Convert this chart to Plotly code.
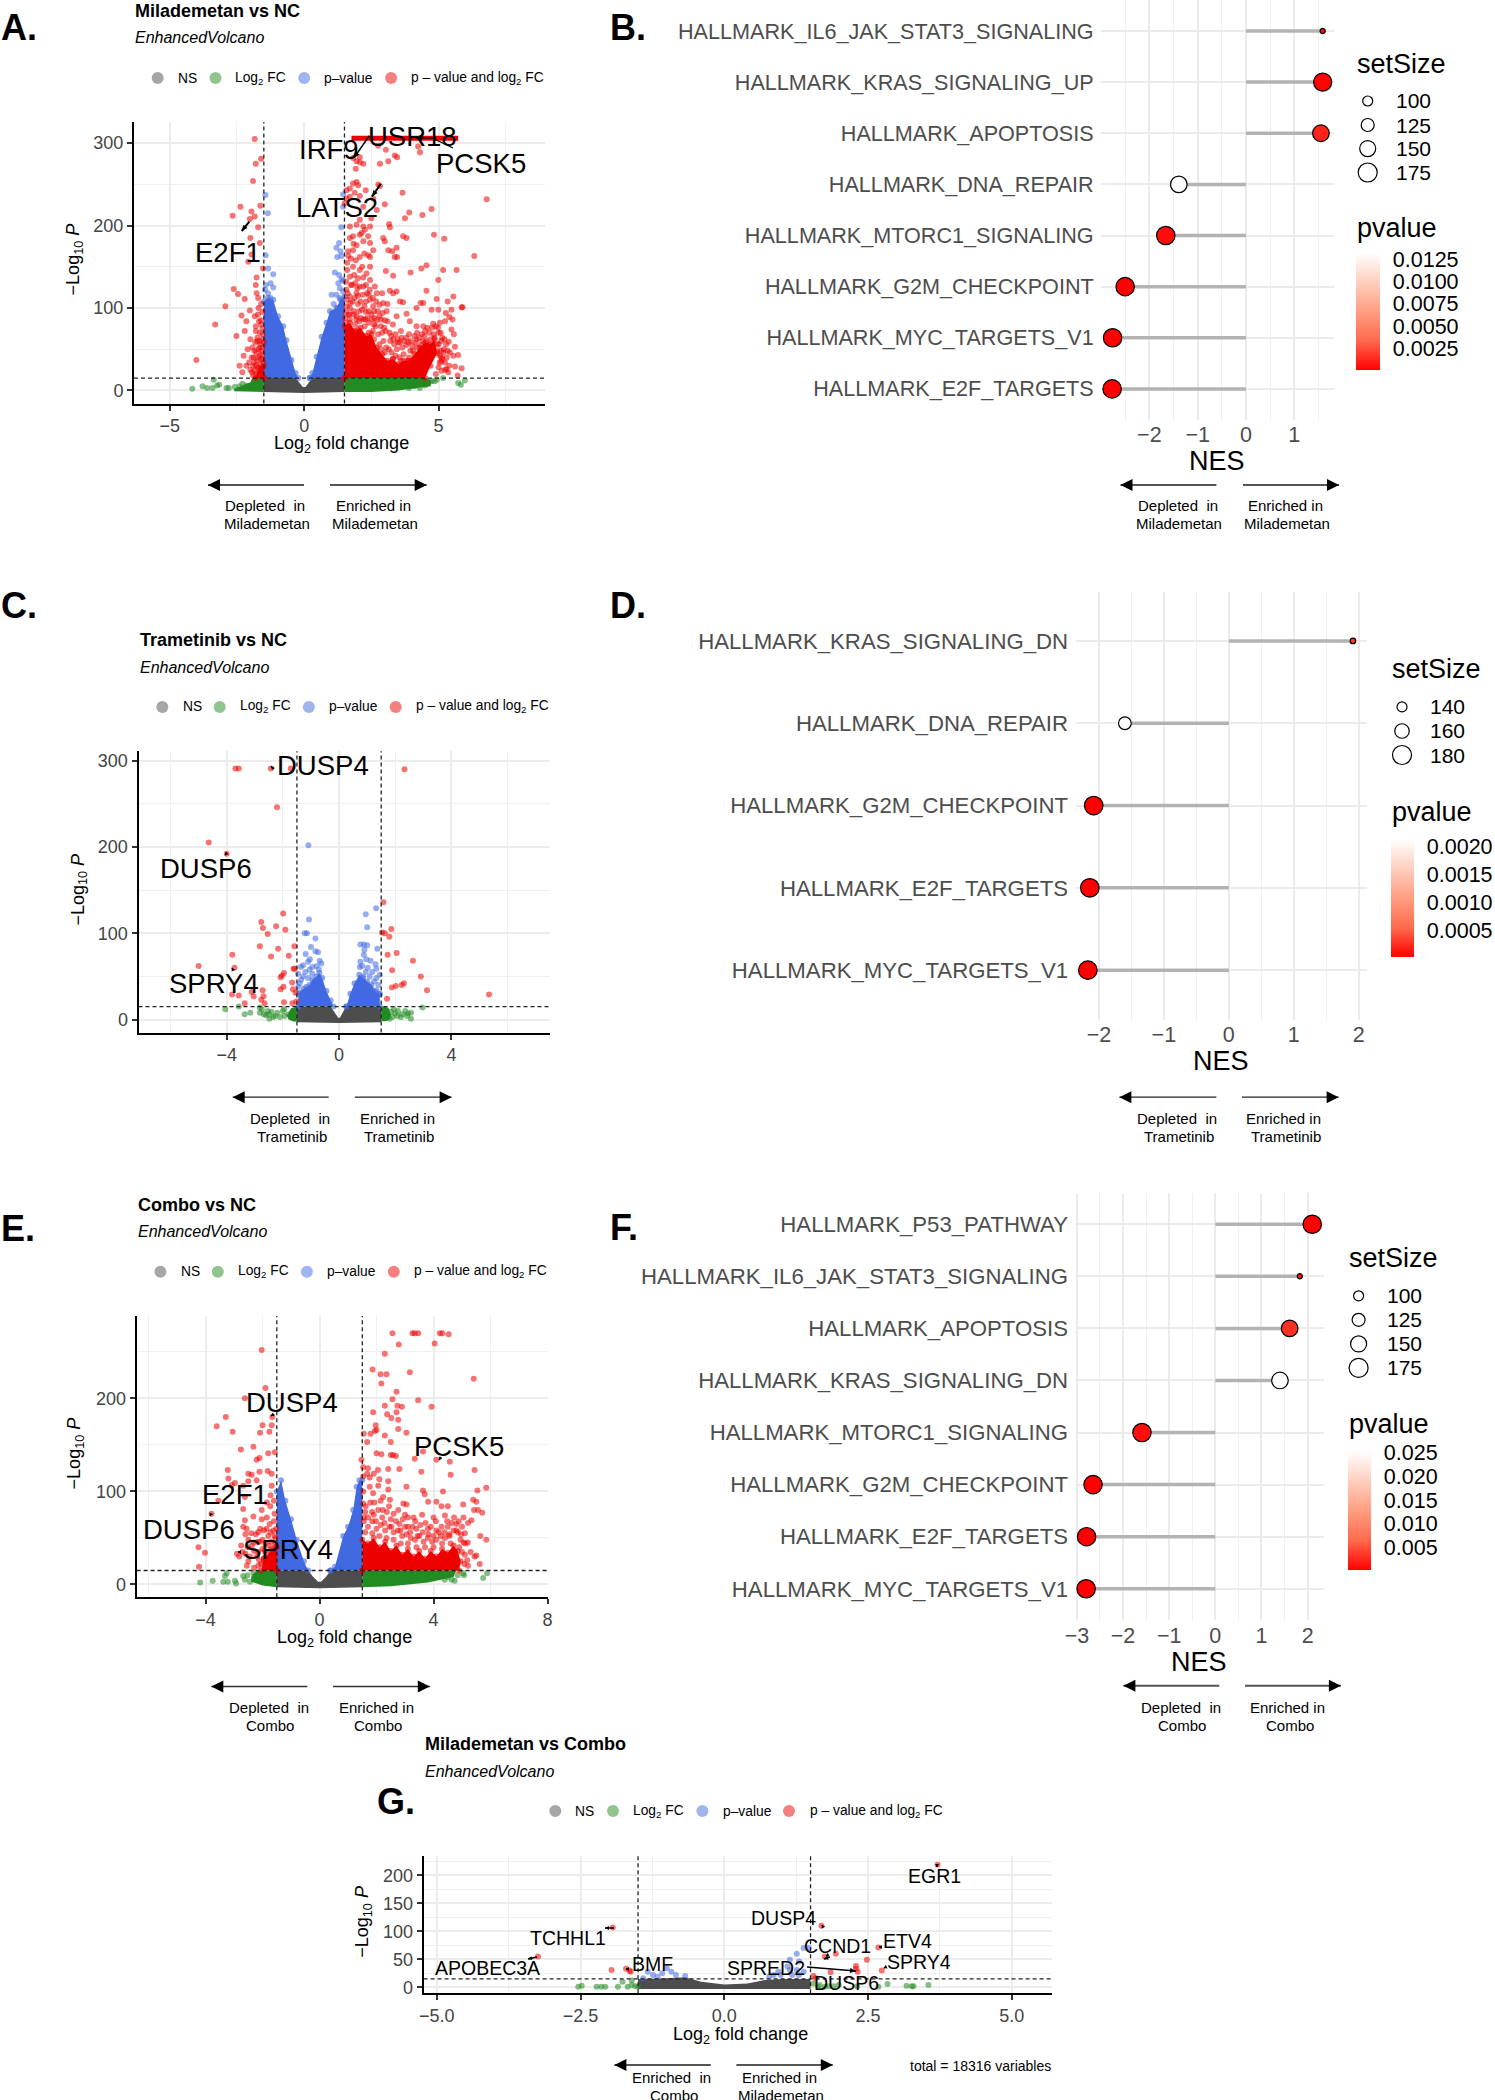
import math
import plotly.graph_objects as go

W, H = 1495, 2100

# ---------- DATA ----------
A_grey = [(-1.5,-2),(-1.5,17),(-0.36,17),(-0.2,10),(-0.05,4),(0.05,4),(0.2,10),(0.34,17),(1.5,17),(1.5,-2),(0,-3)]
A_green = [(1.5,-2),(1.5,17),(4.4,17),(4.75,12),(4.7,5),(3.5,0),(2.5,-2)]
A_green2 = [(-1.5,-2),(-1.5,17),(-1.9,17),(-2.0,10),(-2.3,6),(-2.6,2),(-2.6,-1)]
A_green_pts = [(-4.16,2),(-3.78,5),(-3.61,3),(-3.36,13),(-3.41,3),(-3.24,6),(-3.16,7),(-2.89,3),(-2.8,3),(-2.58,4),(-2.4,5),(-2.3,8),(-2.15,6),
               (4.74,11),(4.93,13),(5.17,15),(5.73,9),(5.83,7),(5.98,12),(4.5,6),(4.6,9),(4.3,3),(4.1,5),(3.9,3),(4.85,11)]
A_blue = [(-1.5,15),(-1.5,108),(-1.35,112),(-1.15,110),(-0.97,90),(-0.78,78),(-0.66,61),(-0.47,37),(-0.32,21),(-0.22,15)]
A_blue2 = [(0.21,15),(0.31,21),(0.46,41),(0.65,65),(0.83,82),(0.96,96),(1.2,100),(1.35,110),(1.5,114),(1.5,15)]
A_blue_pts = [(-1.44,237),(-1.35,215),(-1.43,164),(-1.34,148),(-1.15,141),(-1.25,130),(-1.43,128),(-1.15,125),(-1.34,118),(-1.46,122),(-1.25,112),
              (1.45,238),(1.45,223),(1.38,198),(1.30,179),(1.2,173),(1.35,169),(1.23,162),(1.39,163),(1.14,143),(1.30,140),(1.39,135),(1.27,130),
              (1.33,124),(1.02,116),(1.2,116),(1.45,133),(1.45,120),(1.32,112),(1.1,105),(1.4,105),(1.25,100)]
A_red_mass = [(1.5,15),(1.5,78),(1.7,82),(1.9,72),(2.1,76),(2.3,66),(2.5,68),(2.7,52),(2.9,44),(3.1,36),(3.3,38),(3.5,32),(3.7,36),(3.9,36),(4.1,44),(4.3,52),(4.5,58),(4.7,56),(4.85,62),(4.95,45),(4.7,30),(4.5,15)]
A_red_mass2 = [(-1.5,15),(-1.5,30),(-1.7,28),(-1.8,15)]
A_sat_x = [1.76,5.73]
A_sat_y = [306,306]
A_red_pts = [(-1.84,305),(-1.80,275),(-1.60,281),(-1.90,254),(-2.37,223),(-2.66,212),(-1.96,217),(-1.63,224),(-2.02,208),(-1.84,211),(-1.71,198),
 (-2.0,185),(-1.65,179),(-2.08,156),(-1.96,165),(-1.53,148),(-1.77,137),(-1.80,128),(-2.62,123),(-2.46,117),(-2.21,111),(-2.93,102),(-3.31,80),(-2.52,66),(-4.01,37),
 (-1.77,118),(-1.71,112),(-2.02,97),(-2.33,91),(-2.15,84),(-2.21,72),(-1.84,90),(-1.7,100),(-1.6,85),(-1.8,78),(-1.65,70),(-2.0,62),(-1.75,60),(-2.1,50),(-2.25,42),(-1.95,40),(-2.15,30),(-2.0,25),(-2.4,30),(-2.3,22),(-1.6,105),(-1.55,95),(-1.55,75),
 (-1.55,62),(-1.62,56),(-1.7,50),(-1.58,48),(-1.78,46),(-1.65,42),(-1.55,38),(-1.75,36),(-1.85,34),(-1.62,32),(-1.55,28),(-1.72,27),(-1.85,24),(-1.6,22),(-1.7,18),(-1.55,18),(-1.9,18),(-1.8,72),(-1.92,52),(-1.68,84),(-1.55,52),(-1.65,60),(-1.85,48),(-1.6,38),(-1.9,30),(-1.78,20),
 (-1.52,34),(-1.58,26),(-1.64,20),(-1.72,40),(-1.8,30),(-1.56,44),(-1.66,52),(-1.74,64),(-1.82,58),(-1.88,40),(-1.94,22),(-2.05,34),(-1.54,68),(-1.6,80),(-1.72,92),(-1.5,58),
 (2.75,297),(3.04,292),(3.37,285),(2.82,275),(3.13,278),(3.46,283),(4.24,296),(4.31,289),(2.07,277),(1.95,278),(1.92,269),(1.82,282),(2.07,283),(2.2,275),
 (1.95,253),(1.82,251),(2.01,249),(1.7,245),(1.57,243),(1.88,240),(2.07,236),(2.29,243),(2.76,250),(2.82,248),(3.66,240),(1.57,233),(1.7,235),(2.57,233),(3.0,226),(3.91,216),(3.75,209),(4.4,213),(4.74,220),(6.79,232),
 (1.51,227),(2.2,223),(2.7,219),(2.5,209),(2.07,207),(1.7,199),(1.95,201),(2.2,199),(2.45,199),(3.16,202),(3.19,198),(3.68,187),(3.81,185),(2.94,185),(3.0,181),(4.83,189),(5.21,184),(6.33,163),
 (3.44,173),(3.13,170),(3.28,169),(3.37,162),(3.46,162),(4.55,152),(4.36,148),(3.96,143),(3.04,145),(3.31,139),(5.17,146),(5.67,146),(4.99,134),(4.55,121),(5.55,114),(5.34,108),(4.93,111),(4.33,106),(4.43,106),(5.86,101),(5.89,101),
 (3.19,121),(3.44,120),(3.31,118),(3.56,108),(3.68,107),(4.18,100),(4.74,98),(4.99,98),(5.48,98),(5.27,94),(5.4,89),(5.52,86),(4.8,81),(5.05,82),(5.24,84),(5.48,74),(5.57,68),(5.38,59),(5.61,53),(5.55,42),(5.73,43),(5.61,29),(5.86,27),(5.71,18),
 (3.93,84),(4.18,78),(4.43,78),(3.44,90),(3.81,93),(3.07,96),(2.94,106),(2.2,86),(2.45,110),(2.7,118),(2.57,102),(2.2,137),(2.45,150),(2.07,146),(1.82,150),(1.7,138),(2.2,126),(1.95,118),(1.7,114),(1.57,122),(2.45,134),(2.63,126),
 (1.82,170),(2.07,162),(2.38,164),(2.45,162),(2.57,170),(1.7,185),(2.2,181),(2.38,187),(2.45,179),(1.82,187),(2.07,189),(1.64,169),(1.64,163),(1.95,176),(2.14,191),(2.26,195),
 (1.6,155),(1.9,130),(2.3,128),(2.9,118),(3.1,105),(2.8,90),(3.0,85),(3.3,80),(3.6,72),(3.9,68),(4.2,70),(4.5,72),(2.6,80),(2.9,70),(3.2,60),(3.5,58),(3.8,55),(3.15,50),(5.0,70),(5.1,60),(5.2,50),(5.3,40),(5.4,30),(5.1,35),(5.25,25),(5.0,28),(4.9,20),
 (1.55,95),(1.7,100),(1.85,92),(2.0,105),(2.15,98),(2.3,95),(2.5,92),(2.7,85),(2.85,78),(1.6,110),(1.8,108),(2.0,115),(2.3,108),(2.6,96),(1.55,82),(1.7,86),(1.9,80),(2.05,84),(2.25,78),(2.4,82),(2.55,72),(2.75,68),(2.95,60),(1.6,76),(1.8,72),(2.0,74),(2.2,66),(2.4,70),(2.6,62),(2.8,56),(3.05,52),(3.25,46),(3.4,42),(3.55,40),(3.7,44),(3.9,40),(4.05,48),(4.2,52),(4.35,55),(4.55,60),(4.7,62),(4.85,64),(5.0,56),(5.1,48),(5.05,42),(3.0,46),(3.3,38),(3.6,36),(3.85,36),(2.85,50),(4.4,60),(4.65,55),(4.95,48),(5.15,38),(3.45,50),(3.65,52),(3.95,48),(4.15,58),(1.65,92),(1.95,90),(2.35,88),(2.65,78),(3.35,56),
 (1.52,88),(1.58,102),(1.62,118),(1.68,92),(1.72,106),(1.78,128),(1.84,96),(1.88,112),(1.94,86),(1.98,124),(2.04,96),(2.1,108),(2.12,88),(2.18,116),(2.24,102),(2.28,86),(2.34,118),(2.4,96),(2.44,122),(2.52,86),(2.56,112),(2.62,88),(2.68,108),(2.74,96),(2.8,104),(2.86,86),(2.92,94),(2.98,76),(3.04,72),(3.1,84),(3.18,70),(3.24,66),(3.32,62),(3.4,68),(3.48,62),(3.56,58),(3.62,64),(3.72,60),(3.8,64),(3.88,58),(3.96,60),(4.02,54),(4.1,66),(4.18,62),(4.28,64),(4.38,68),(4.48,66),(4.58,76),(4.66,70),(4.76,76),(4.82,68),(4.9,78),(4.98,76),(5.08,70),(5.14,64),(5.22,62),(5.28,56),(5.34,48),(5.18,46),(5.1,40),(5.24,34),(5.3,26),(5.12,24),(5.04,34),(5.42,46),(5.36,22),(4.96,56),(1.56,132),(1.74,128),(1.6,146),(1.86,140),(2.0,136),(2.16,150),(2.32,142),(2.4,116),(2.06,126),(1.92,158),(1.74,160),(2.24,166),(1.84,178)]

C_grey = [(-1.5,-3),(-1.5,15),(-0.3,15),(-0.15,8),(-0.03,2),(0.03,2),(0.13,8),(0.25,15),(1.5,15),(1.5,-3),(0,-4)]
C_green = [(1.5,-2),(1.5,15),(1.75,14),(1.85,6),(1.8,0),(1.65,-2)]
C_green2 = [(-1.5,-2),(-1.5,15),(-1.7,13),(-1.85,5),(-1.8,0),(-1.65,-2)]
C_green_pts = [(-4.05,12),(-3.57,15),(-3.36,6),(-3.16,8),(-2.82,14),(-2.82,8),(-2.68,6),(-2.54,10),(-2.41,9),(-2.48,1),(-2.27,4),(-2.0,10),(-1.93,4),(-1.8,6),(-1.65,10),(-1.58,1),(-2.75,12),(-2.6,5),(-2.5,6),(-2.35,3),(-2.2,8),(-2.1,3),(-1.95,12),
               (1.6,12),(1.95,12),(2.36,10),(2.56,8),(2.97,14),(2.56,1),(2.42,4),(2.07,4),(1.8,1),(2.2,3),(1.7,6),(1.85,9),(2.0,7),(2.1,10),(2.25,6),(1.9,3),(2.45,7)]
C_blue = [(-1.45,15),(-1.45,30),(-1.25,36),(-1.05,40),(-0.95,46),(-0.8,50),(-0.7,54),(-0.6,48),(-0.45,33),(-0.3,22),(-0.2,15)]
C_blue2 = [(0.26,15),(0.4,30),(0.55,42),(0.72,52),(0.85,48),(1.0,44),(1.15,40),(1.3,32),(1.45,30),(1.45,15)]
C_blue_pts = [(-1.09,202),(0.95,122),(1.32,129),(-1.07,116),(1.0,107),(-1.22,100),(-1.14,100),(-0.84,94),(0.76,87),(0.88,87),(1.0,86),(0.9,81),(1.36,82),(-1.0,84),(-0.84,79),(-0.75,78),
              (-1.19,76),(0.88,75),(-1.04,70),(-1.1,67),(-0.69,68),(-0.63,65),(0.97,70),(0.76,67),(1.12,68),(1.3,64),(-1.28,63),(-1.36,61),(0.74,61),(1.33,59),(-0.95,61),(-1.46,53),(-1.28,50),(-1.1,48),(-0.95,53),
              (0.85,50),(1.09,50),(1.33,48),(1.45,52),(-1.4,42),(-1.16,38),(-1.4,31),(-1.28,32),(-1.0,31),(1.09,38),(1.33,34),(1.45,29),(0.85,34),(1.27,25),(-0.8,62),(-0.72,58),(0.82,62),(1.02,60),(1.18,55),(-1.35,46),(-1.2,55),(-1.05,58),(1.25,44),(0.95,55),(1.4,40),(-1.45,38),(-0.9,42),(1.2,34)]
C_red_pts = [(-3.69,291),(-3.57,291),(-2.43,291),(-1.72,291),(2.33,290),(-2.21,246),(-4.64,205),(-4.0,192),(1.58,136),(-1.99,123),(-2.77,113),(-2.71,106),(-2.24,108),(-1.91,104),(-2.54,99),(1.53,101),(1.63,100),(1.86,105),(1.79,96),
 (-2.82,85),(-2.17,82),(-1.59,85),(-2.42,73),(-1.79,74),(-3.8,75),(2.05,77),(1.73,75),(2.63,68),(-5.0,62),(-3.72,60),(-1.58,59),(-1.62,59),(1.89,57),(-1.96,54),(-2.03,51),(-2.08,49),(2.91,50),(-1.67,43),(-1.98,38),(-2.08,35),(-1.64,35),(-2.72,34),(3.13,34),
 (2.02,39),(1.88,37),(2.23,40),(2.31,42),(-3.81,29),(-3.57,28),(-3.11,32),(-3.04,27),(-2.69,27),(-2.77,23),(-2.65,19),(-3.36,19),(-1.96,20),(-1.66,19),(-1.52,21),(-1.55,31),(1.71,24),(5.34,29)]

E_grey = [(-1.5,-3),(-1.5,15),(-0.4,15),(-0.22,8),(-0.05,3),(0.05,3),(0.22,8),(0.4,15),(1.5,15),(1.5,-3),(0,-4)]
E_green = [(1.5,-3),(1.5,15),(4.8,15),(4.7,8),(3.8,2),(2.5,-2)]
E_green2 = [(-1.5,-3),(-1.5,15),(-2.2,15),(-2.4,8),(-2.4,3),(-2.0,-1)]
E_green_pts = [(-4.19,2),(-3.75,4),(-3.38,3),(-3.26,12),(-3.32,9),(-3.22,3),(-2.97,4),(-2.93,1),(-2.68,9),(-2.62,5),(-2.53,10),(-2.32,12),(-2.26,9),(-2.44,3),
               (4.63,5),(4.74,4),(4.39,5),(5.04,12),(5.07,10),(5.74,7),(5.88,12),(4.85,10),(4.5,8)]
E_blue = [(-1.5,15),(-1.5,100),(-1.35,112),(-1.2,90),(-1.0,70),(-0.8,48),(-0.55,25),(-0.4,15)]
E_blue2 = [(0.38,15),(0.54,19),(0.83,52),(1.0,62),(1.18,80),(1.3,105),(1.4,112),(1.5,112),(1.5,15)]
E_red_mass = [(1.5,15),(1.5,48),(1.7,44),(1.9,50),(2.1,40),(2.3,46),(2.5,36),(2.7,42),(2.9,32),(3.1,38),(3.3,30),(3.5,36),(3.7,28),(3.9,36),(4.1,30),(4.3,38),(4.5,34),(4.7,42),(4.85,36),(4.95,25),(4.9,15)]
E_red_mass2 = [(-1.5,15),(-1.5,40),(-1.7,36),(-1.95,28),(-2.05,15)]
E_red_pts = [(2.56,270),(3.26,270),(3.34,270),(3.46,270),(4.22,270),(4.31,270),(4.53,269),(2.78,258),(4.04,259),(-2.03,252),(2.29,248),(1.86,231),(2.14,226),(2.35,226),(2.17,216),(3.17,228),(5.41,221),(-1.9,211),(2.7,207),(-2.62,200),(2.56,199),(3.46,198),
 (2.29,192),(2.73,192),(2.89,191),(3.93,191),(1.88,185),(2.7,185),(2.37,183),(2.52,179),(2.76,177),(-3.29,180),(-1.66,180),(-3.61,170),(-3.05,164),(-2.0,171),(-1.68,171),(-2.09,163),(-1.76,164),(1.97,171),(2.0,166),(1.94,165),(1.55,162),(1.79,162),(2.29,160),(2.76,167),(3.05,163),(1.67,153),(2.5,153),(3.63,143),
 (-2.76,145),(-2.32,148),(-1.8,141),(-1.57,142),(2.0,141),(2.17,140),(2.5,139),(2.58,139),(2.68,138),(3.34,135),(4.1,134),(4.57,132),(-2.11,136),(-2.21,134),(-3.22,123),(-2.5,119),(-2.38,118),(-2.11,121),(-1.82,122),(-1.68,119),(1.47,134),(1.53,126),(1.7,125),(2.05,123),(2.41,124),(1.9,119),(1.67,119),(2.8,124),(3.57,121),(4.6,118),(5.44,123),
 (-3.2,114),(-2.97,109),(-2.5,111),(-2.21,112),(-1.68,106),(5.85,104),(5.54,101),(4.33,100),(3.63,101),(3.69,97),(3.05,105),(1.53,116),(1.76,115),(2.1,113),(2.41,111),(2.06,106),(1.76,105),(2.41,102),(1.88,98),(2.23,94),(1.53,100),(1.53,87),(2.47,91),(2.94,87),(3.05,86),(3.81,89),(4.1,89),(4.28,84),(4.5,84),(5.04,86),(5.39,91),(5.5,89),(5.42,80),(5.56,80),(5.71,77),
 (-3.08,107),(-2.68,106),(-2.62,94),(-3.55,90),(-3.79,76),(-2.68,81),(-2.03,80),(-1.73,84),(-2.03,70),(-2.32,73),(-2.62,69),(-2.68,62),(-2.56,60),(-4.25,40),(-4.02,34),(-4.23,19),(5.85,48),(5.5,31),(5.44,30),(5.62,22),(5.21,20),(5.64,52),(5.33,69),(5.21,66),
 (1.6,78),(1.9,75),(2.2,72),(2.5,70),(2.8,65),(3.1,62),(3.4,60),(3.8,60),(4.1,58),(4.5,62),(4.8,65),(5.0,62),(5.1,55),(5.2,45),(5.3,35),(3.0,75),(3.3,72),(3.6,75),(4.0,72),(4.4,74),(-2.4,55),(-2.3,45),(-2.5,48),(-2.7,35),(-2.6,33),(-2.5,25),(-2.3,18),(-2.2,30),
 (1.55,68),(1.7,62),(1.85,68),(2.0,60),(2.15,64),(2.3,58),(2.45,62),(2.6,56),(2.75,58),(2.9,52),(3.05,54),(3.2,50),(3.35,48),(3.5,52),(3.65,46),(3.8,50),(3.95,46),(4.1,48),(4.25,52),(4.4,50),(4.55,54),(4.7,58),(4.85,56),(4.95,48),(1.6,56),(1.85,55),(2.1,52),(2.35,50),(2.6,48),(2.85,44),(3.1,44),(3.4,40),(3.7,40),(4.0,40),(4.3,44),(4.6,44),(4.9,40),(5.05,45),(5.1,32),(5.0,35),
 (-1.55,50),(-1.62,58),(-1.7,46),(-1.58,40),(-1.8,52),(-1.9,44),(-1.7,38),(-1.55,32),(-1.85,34),(-2.0,38),(-2.1,46),(-1.95,28),(-1.7,28),(-1.55,24),(-1.8,22),(-2.05,22),(-1.65,18),(-1.9,18),(-2.15,35),(-1.75,65),(-1.6,68),(-1.95,58),(-2.15,56),(-1.58,76),(-1.85,72),
 (1.56,72),(1.62,84),(1.7,72),(1.78,88),(1.84,78),(1.92,88),(1.98,68),(2.06,80),(2.14,90),(2.22,80),(2.28,66),(2.36,78),(2.44,84),(2.52,62),(2.6,76),(2.68,68),(2.76,80),(2.84,58),(2.92,70),(3.0,62),(3.1,72),(3.18,56),(3.26,62),(3.36,68),(3.44,52),(3.54,64),(3.62,56),(3.72,66),(3.82,54),(3.9,62),(4.0,52),(4.08,68),(4.18,56),(4.28,62),(4.38,56),(4.48,68),(4.56,52),(4.64,66),(4.72,72),(4.8,58),(4.88,68),(4.96,54),(5.05,72),(5.12,44),(5.18,26),(5.08,22),
 (-1.52,40),(-1.58,52),(-1.64,34),(-1.72,56),(-1.78,42),(-1.86,60),(-1.92,36),(-2.0,48),(-2.08,60),(-2.16,46),(-2.24,54),(-2.3,36),(-2.38,42),(-2.44,30),(-2.52,40),(-2.6,54),(-2.75,42),(-2.82,30),(-2.9,33),(-2.55,20),(-2.15,20),(-1.52,60),(-1.6,90),(-1.72,96),(-1.85,88),(-1.55,44),(-1.68,24),(-1.82,28),(-1.95,25),(-2.12,26)]

G_grey = [(-1.5,-3),(-1.5,15),(-1.0,16),(-0.68,18),(-0.4,10),(0.0,5),(0.4,7),(0.7,13),(1.0,15),(1.5,15),(1.5,-3)]
G_green_pts = [(-2.54,1),(-2.48,3),(-2.22,1),(-2.14,1),(-2.07,1),(-1.85,1),(-1.68,1),(-1.61,4),(-1.77,10),(-1.61,12),(-1.55,2),(-1.5,1),
               (2.84,6),(3.17,3),(3.26,2),(3.29,2),(3.55,4),(2.68,1),(2.31,2),(1.99,4),(1.9,2),(1.82,2),(1.66,4),(1.55,7),(1.75,1),(1.63,1)]
G_blue_pts = [(1.38,70),(1.47,70),(1.26,60),(1.14,49),(1.3,46),(1.1,37),(0.94,28),(1.14,31),(1.26,31),(1.38,28),(0.78,19),(0.86,22),(0.98,22),(1.18,22),(1.3,22),
              (-1.33,28),(-1.0,34),(-0.92,28),(-1.08,25),(-1.24,22),(-0.84,22),(-1.16,19),(-0.68,20),(-1.41,16)]
G_red_pts = [(3.71,219),(1.69,110),(-1.94,107),(-3.24,55),(2.68,71),(1.94,60),(1.75,55),(2.48,49),(2.29,38),(2.29,33),(2.32,28),(2.74,30),(1.85,27),(-1.96,31),(-1.71,33),(-1.65,30),(-1.63,28),(1.55,20),(1.59,16)]

B_terms = ["HALLMARK_IL6_JAK_STAT3_SIGNALING","HALLMARK_KRAS_SIGNALING_UP","HALLMARK_APOPTOSIS","HALLMARK_DNA_REPAIR","HALLMARK_MTORC1_SIGNALING","HALLMARK_G2M_CHECKPOINT","HALLMARK_MYC_TARGETS_V1","HALLMARK_E2F_TARGETS"]
B_nes = [1.586,1.586,1.55,-1.39,-1.66,-2.5,-2.76,-2.77]
B_size = [60,168,155,155,170,170,170,170]
B_p = [0.0003,0.0002,0.0012,0.0132,0.0005,0.0001,0.0001,0.0001]
B_size_legend = [100,125,150,175]
B_p_ticks = [0.0025,0.005,0.0075,0.01,0.0125]
B_p_labels = ["0.0025","0.0050","0.0075","0.0100","0.0125"]

D_terms = ["HALLMARK_KRAS_SIGNALING_DN","HALLMARK_DNA_REPAIR","HALLMARK_G2M_CHECKPOINT","HALLMARK_E2F_TARGETS","HALLMARK_MYC_TARGETS_V1"]
D_nes = [1.91,-1.6,-2.08,-2.14,-2.17]
D_size = [120,152,178,178,178]
D_p = [0.0003,0.00214,0.00003,0.00003,0.00003]
D_size_legend = [140,160,180]
D_p_ticks = [0.0005,0.001,0.0015,0.002]
D_p_labels = ["0.0005","0.0010","0.0015","0.0020"]

F_terms = ["HALLMARK_P53_PATHWAY","HALLMARK_IL6_JAK_STAT3_SIGNALING","HALLMARK_APOPTOSIS","HALLMARK_KRAS_SIGNALING_DN","HALLMARK_MTORC1_SIGNALING","HALLMARK_G2M_CHECKPOINT","HALLMARK_E2F_TARGETS","HALLMARK_MYC_TARGETS_V1"]
F_nes = [2.1,1.83,1.61,1.40,-1.59,-2.65,-2.79,-2.80]
F_size = [170,60,155,155,170,170,170,170]
F_p = [0.0002,0.001,0.003,0.0253,0.001,0.0002,0.0002,0.0002]
F_size_legend = [100,125,150,175]
F_p_ticks = [0.005,0.01,0.015,0.02,0.025]
F_p_labels = ["0.005","0.010","0.015","0.020","0.025"]

FONT = "Liberation Sans"
GREY = "#4d4d4d"
C_NS, C_FC, C_P, C_BOTH = "77,77,77", "34,139,34", "65,105,225", "238,0,0"

fig = go.Figure()
annots, shapes = [], []
layout = {}

def px(x): return x / W
def py(y): return 1 - y / H

def T(x, y, s, size=15, anchor="left", color="black", angle=0):
    annots.append(dict(xref="paper", yref="paper", x=px(x), y=py(y), text=s, showarrow=False,
                       xanchor=anchor, yanchor="middle", textangle=angle, borderpad=0,
                       font=dict(size=size, color=color, family=FONT)))

def ARW(x0, y0, x1, y1, width=1.5, head=True, hl=6, hw=2.6):
    shapes.append(dict(type="line", xref="paper", yref="paper", x0=px(x0), x1=px(x1), y0=py(y0), y1=py(y1),
                       line=dict(color="black", width=width)))
    if head:
        d = math.hypot(x1-x0, y1-y0) or 1
        ux, uy = (x1-x0)/d, (y1-y0)/d
        bx, by = x1-ux*hl, y1-uy*hl
        shapes.append(dict(type="path", xref="paper", yref="paper",
                           path=f"M {px(x1)},{py(y1)} L {px(bx-uy*hw)},{py(by+ux*hw)} L {px(bx+uy*hw)},{py(by-ux*hw)} Z",
                           fillcolor="black", line=dict(width=0)))

def big_arrow(tail, tip, y, color="#555555", lw=2):
    shapes.append(dict(type="line", xref="paper", yref="paper", x0=px(tail), x1=px(tip), y0=py(y), y1=py(y),
                       line=dict(color=color, width=lw)))
    d = 12 if tip > tail else -12
    shapes.append(dict(type="path", xref="paper", yref="paper",
                       path=f"M {px(tip)},{py(y)} L {px(tip-d)},{py(y-6)} L {px(tip-d)},{py(y+6)} Z",
                       fillcolor="black", line=dict(width=0)))

def circle(x, y, d, fill, line=None):
    shapes.append(dict(type="circle", xref="paper", yref="paper", x0=px(x-d/2), x1=px(x+d/2), y0=py(y+d/2), y1=py(y-d/2),
                       fillcolor=fill, line=dict(width=1.2 if line else 0, color=line or "rgba(0,0,0,0)")))

def axes(n, box, xr, yr, xt, xminor, yt, yminor, xlabels=None):
    l, r, t, b = box
    sfx = "" if n == 1 else str(n)
    layout["xaxis"+sfx] = dict(domain=[px(l), px(r)], range=xr, anchor="y"+sfx, tickvals=xt, ticktext=xlabels,
        showgrid=True, gridcolor="#ececec", gridwidth=2, zeroline=False, showline=True, linecolor="black", linewidth=2,
        ticks="outside", ticklen=5, tickwidth=1.5, tickcolor="#333333", tickfont=dict(size=18, color="#444444", family=FONT),
        minor=dict(tickvals=xminor, showgrid=True, gridcolor="#f0f0f0", gridwidth=1, ticks=""))
    layout["yaxis"+sfx] = dict(domain=[py(b), py(t)], range=yr, anchor="x"+sfx, tickvals=yt,
        showgrid=True, gridcolor="#ececec", gridwidth=2, zeroline=False, showline=True, linecolor="black", linewidth=2,
        ticks="outside", ticklen=5, tickwidth=1.5, tickcolor="#333333", tickfont=dict(size=18, color="#444444", family=FONT),
        minor=dict(tickvals=yminor, showgrid=True, gridcolor="#f0f0f0", gridwidth=1, ticks=""))

def pts(n, data, color, name):
    sfx = "" if n == 1 else str(n)
    fig.add_trace(go.Scatter(x=[p[0] for p in data], y=[p[1] for p in data], mode="markers", name=name, xaxis="x"+sfx, yaxis="y"+sfx,
                             marker=dict(size=6, color=f"rgba({color},0.55)", line=dict(width=0)), showlegend=False))

def poly(n, data, color, name, edge=True):
    sfx = "" if n == 1 else str(n)
    fig.add_trace(go.Scatter(x=[p[0] for p in data]+[data[0][0]], y=[p[1] for p in data]+[data[0][1]], mode="lines+markers" if edge else "lines",
                             fill="toself", fillcolor=f"rgb({color})", name=name, xaxis="x"+sfx, yaxis="y"+sfx,
                             line=dict(width=0, color=f"rgb({color})"), showlegend=False,
                             marker=dict(size=6, color=f"rgba({color},0.6)", line=dict(width=0))))

def cutoffs(n, hi=1.5, lo=-1.5, p=15):
    sfx = "" if n == 1 else str(n)
    for v in (lo, hi):
        shapes.append(dict(type="line", xref="x"+sfx, yref=f"y{sfx} domain", x0=v, x1=v, y0=0, y1=1, layer="above",
                           line=dict(color="#222222", width=1.3, dash="4px,3px")))
    shapes.append(dict(type="line", xref=f"x{sfx} domain", yref="y"+sfx, x0=0, x1=1, y0=p, y1=p, layer="above",
                       line=dict(color="#222222", width=1.3, dash="4px,3px")))

def header(title, tx, ty, sy, ly, circ, texts):
    T(tx, ty, f"<b>{title}</b>", 18)
    T(tx, sy, "<i>EnhancedVolcano</i>", 16)
    cols = [C_NS, C_FC, C_P, C_BOTH]
    labs = ["NS", "Log<sub>2</sub> FC", "p\u2013value", "p \u2013 value and log<sub>2</sub> FC"]
    for c, tt, col, lab in zip(circ, texts, cols, labs):
        circle(c, ly, 12, f"rgba({col},0.5)")
        T(tt, ly, lab, 13.8)

def directions(tail_l, tip_l, tail_r, tip_r, y, rows, lw=2, col="#555555"):
    big_arrow(tail_l, tip_l, y, col, lw)
    big_arrow(tail_r, tip_r, y, col, lw)
    for x, yy, s in rows:
        T(x, yy, s, 15, "center")

def lollipop(n, box, xr, terms, nes, sizes, ps, size_fn, xt, xminor, legend, cbar, cticks, clabels, crange, term_font):
    l, r, t, b = box
    sfx = str(n)
    k = len(terms)
    lx, ly = [], []
    for tm, v in zip(terms, nes):
        lx += [0, v, None]; ly += [tm, tm, None]
    fig.add_trace(go.Scatter(x=lx, y=ly, mode="lines", line=dict(color="#b3b3b3", width=3.5), xaxis="x"+sfx, yaxis="y"+sfx, showlegend=False, name="NES"))
    cl, cr, ct, cb = cbar
    fig.add_trace(go.Scatter(x=nes, y=terms, mode="markers", xaxis="x"+sfx, yaxis="y"+sfx, showlegend=False, cliponaxis=False, name="gene sets",
        marker=dict(size=[size_fn(s) for s in sizes], opacity=1, color=ps, cmin=crange[0], cmax=crange[1],
                    colorscale=[[0,"#ff0000"],[0.25,"#ff6a4d"],[0.5,"#ff9e81"],[0.75,"#ffcfbf"],[1,"#ffffff"]],
                    line=dict(color="black", width=1.2), showscale=True,
                    colorbar=dict(x=px(cl), xanchor="left", xpad=0, ypad=0, y=py(cb), yanchor="bottom", thickness=cr-cl, thicknessmode="pixels",
                                  len=cb-ct, lenmode="pixels", outlinewidth=0, tickvals=cticks, ticktext=clabels, ticks="outside", ticklen=9,
                                  tickcolor="rgba(0,0,0,0)", tickfont=dict(size=21.5, color="black", family=FONT)))))
    layout["xaxis"+sfx] = dict(domain=[px(l), px(r)], range=xr, anchor="y"+sfx, tickvals=xt, showgrid=True, gridcolor="#ebebeb", gridwidth=1.5,
        zeroline=False, showline=False, ticks="", tickfont=dict(size=21.5, color=GREY, family=FONT),
        minor=dict(tickvals=xminor, showgrid=True, gridcolor="#f0f0f0", gridwidth=1, ticks=""))
    layout["yaxis"+sfx] = dict(domain=[py(b), py(t)], type="category", categoryorder="array", categoryarray=terms, range=[k-0.4, -0.6], anchor="x"+sfx,
        showgrid=True, gridcolor="#ebebeb", gridwidth=2, zeroline=False, showline=False, ticks="outside", ticklen=2, tickcolor="rgba(0,0,0,0)",
        tickfont=dict(size=term_font, color=GREY, family=FONT))
    stx, sty, csx, cys, ctx, ptx, pty = legend
    T(stx, sty, "setSize", 27)
    for s, cy in zip(legend_sizes[n], cys):
        circle(csx, cy, size_fn(s), "white", "black")
        T(ctx, cy, str(s), 21)
    T(ptx, pty, "pvalue", 27)

# ---------- A ----------
axes(1, (134, 545, 122, 403.6), [-6.33, 8.96], [-16, 325.7], [-5,0,5], [-2.5,2.5,7.5], [0,100,200,300], [50,150,250])
poly(1, A_grey, C_NS, "NS", False)
poly(1, A_green, C_FC, "Log2 FC", False); poly(1, A_green2, C_FC, "Log2 FC", False); pts(1, A_green_pts, C_FC, "Log2 FC")
poly(1, A_blue, C_P, "p-value"); poly(1, A_blue2, C_P, "p-value"); pts(1, A_blue_pts, C_P, "p-value")
poly(1, A_red_mass, C_BOTH, "p-value and log2 FC"); poly(1, A_red_mass2, C_BOTH, "p-value and log2 FC"); pts(1, A_red_pts, C_BOTH, "p-value and log2 FC")
fig.add_trace(go.Scatter(x=A_sat_x, y=A_sat_y, mode="lines", line=dict(color=f"rgb({C_BOTH})", width=5), showlegend=False, xaxis="x", yaxis="y", name="saturated"))
cutoffs(1)
header("Milademetan vs NC", 134.3, 10.7, 37.5, 78, [157.7,215.5,304.2,391.1], [176.8,234,323,410])
T(74.6, 259.8, "\u2212Log<sub>10</sub> <i>P</i>", 18, "center", "black", -90)
T(341.8, 444.6, "Log<sub>2</sub> fold change", 18, "center")
for x,y,s in [(412.5,136.4,"USR18"),(329,149.3,"IRF9"),(481.4,163.6,"PCSK5"),(336.8,207.9,"LATS2"),(227.7,252.9,"E2F1")]:
    T(x,y,s,27.5,"center")
ARW(369.3,135.7,354,157.9); ARW(436,138,416,138,1.2); ARW(432,138,453,148,1.2,False); ARW(380.8,184,372,196.4,2); ARW(249.3,221.7,241.7,231,2)
directions(304,208,330,426.7,485,[(265,505,"Depleted  in"),(267,523.5,"Milademetan"),(373,505,"Enriched in"),(374.7,523.5,"Milademetan")])

# ---------- C ----------
axes(3, (138.5, 550, 751.3, 1032.5), [-7.14, 7.51], [-15, 310.8], [-4,0,4], [-6,-2,2,6], [0,100,200,300], [50,150,250])
poly(3, C_grey, C_NS, "NS", False)
poly(3, C_green, C_FC, "Log2 FC", False); poly(3, C_green2, C_FC, "Log2 FC", False); pts(3, C_green_pts, C_FC, "Log2 FC")
poly(3, C_blue, C_P, "p-value"); poly(3, C_blue2, C_P, "p-value"); pts(3, C_blue_pts, C_P, "p-value")
pts(3, C_red_pts, C_BOTH, "p-value and log2 FC")
cutoffs(3)
header("Trametinib vs NC", 138.5, 639.6, 667.3, 706.9, [162.3,219.7,308.8,395.7], [181.8,239.2,327.6,415.2])
T(78.5, 890, "\u2212Log<sub>10</sub> <i>P</i>", 18, "center", "black", -90)
for x,y,s in [(322.6,765,"DUSP4"),(205.9,868.6,"DUSP6"),(213.6,983.3,"SPRY4")]:
    T(x,y,s,27.5,"center")
ARW(274,769,271,766.5,1.5,True,3,2); ARW(227,853,225,855,1.5,True,3,2); ARW(233,970,232,968,1.5,True,3,2)
directions(328.7,232.7,354.8,451.6,1097.2,[(289.7,1118,"Depleted  in"),(292,1136,"Trametinib"),(397.2,1118,"Enriched in"),(399.5,1136,"Trametinib")],1.2,"#222222")

# ---------- E ----------
axes(5, (136.6, 548.4, 1316, 1597.3), [-6.42, 8.03], [-13.8, 288.5], [-4,0,4,8], [-6,-2,2,6], [0,100,200], [50,150,250])
poly(5, E_grey, C_NS, "NS", False)
poly(5, E_green, C_FC, "Log2 FC", False); poly(5, E_green2, C_FC, "Log2 FC", False); pts(5, E_green_pts, C_FC, "Log2 FC")
poly(5, E_blue, C_P, "p-value"); poly(5, E_blue2, C_P, "p-value")
poly(5, E_red_mass, C_BOTH, "p-value and log2 FC"); poly(5, E_red_mass2, C_BOTH, "p-value and log2 FC"); pts(5, E_red_pts, C_BOTH, "p-value and log2 FC")
cutoffs(5)
header("Combo vs NC", 136.6, 1204.9, 1231.5, 1271.8, [160.4,217.8,306.9,393.8], [179.5,236.9,326,413])
T(75.8, 1453.6, "\u2212Log<sub>10</sub> <i>P</i>", 18, "center", "black", -90)
T(344.4, 1638.4, "Log<sub>2</sub> fold change", 18, "center")
for x,y,s in [(292,1402.7,"DUSP4"),(458.5,1446.4,"PCSK5"),(235.4,1494.7,"E2F1"),(189.4,1529,"DUSP6"),(288.2,1549,"SPRY4")]:
    T(x,y,s,27.5,"center")
ARW(274,1414,271,1416,1.5,True,3,2); ARW(441,1457,439,1460,1.5,True,3,2); ARW(211,1514,210,1516,1.5,True,3,2); ARW(241,1552,238,1552,1.5,True,3,2)
directions(307.3,211.3,333,429.8,1686.4,[(268.7,1707,"Depleted  in"),(270.2,1725.3,"Combo"),(376.2,1707,"Enriched in"),(378,1725.3,"Combo")],1.5,"#333333")

# ---------- G ----------
axes(7, (423.6, 1052, 1855.7, 1993.3), [-5.23, 5.70], [-10.7, 235], [-5,-2.5,0,2.5,5], [-3.75,-1.25,1.25,3.75], [0,50,100,150,200], [25,75,125,175,225], xlabels=["\u22125.0","\u22122.5","0.0","2.5","5.0"])
poly(7, G_grey, C_NS, "NS", False)
pts(7, G_green_pts, C_FC, "Log2 FC")
pts(7, G_blue_pts, C_P, "p-value")
pts(7, G_red_pts, C_BOTH, "p-value and log2 FC")
cutoffs(7)
header("Milademetan vs Combo", 424, 1744.3, 1771, 1811, [555.3,613,702.4,789], [574.4,632.1,721.5,808.6])
T(364, 1921.7, "\u2212Log<sub>10</sub> <i>P</i>", 18, "center", "black", -90)
T(740, 2035, "Log<sub>2</sub> fold change", 18, "center")
for x,y,s in [(934.7,1876,"EGR1"),(783.9,1917.7,"DUSP4"),(567.9,1938.3,"TCHHL1"),(837.4,1946,"CCND1"),(907.7,1940.7,"ETV4"),(918.9,1962.3,"SPRY4"),(652.6,1964,"BMF"),(765.7,1968,"SPRED2"),(487.8,1967.7,"APOBEC3A"),(846.3,1983.3,"DUSP6")]:
    T(x,y,s,19.5,"center")
ARW(614,1928,605,1928,1.5,True,4,2); ARW(537,1957,528,1959,1.5,True,4,2); ARW(828,1955,826,1956,1.5,True,3,2); ARW(807,1967,856,1971,1.5,True,6,2.5); ARW(937,1864,937,1867,1.5,True,3,2)
ARW(823,1927,822,1925,1.5,True,3,2); ARW(881,1947,879,1947,1.5,True,3,2); ARW(886,1967,884,1968,1.5,True,3,2); ARW(629,1969,626,1969,1.5,True,3,2); ARW(830,1957,824,1959,1.5,True,4,2)
directions(710.8,614.4,736.4,832.8,2065,[(671.2,2077,"Enriched  in"),(673.6,2095,"Combo"),(779.2,2077,"Enriched in"),(781,2095,"Milademetan")])
T(1052, 2065.7, "total = 18316 variables", 14, "right")

# ---------- B, D, F ----------
legend_sizes = {2: B_size_legend, 4: D_size_legend, 6: F_size_legend}
lollipop(2, (1101, 1333.5, 0.3, 419.6), [-3.0, 1.81], B_terms, B_nes, B_size, B_p, lambda s: 10+(s-100)*0.12,
         [-2,-1,0,1], [-2.5,-1.5,-0.5,0.5,1.5], (1356,63.6,1367.7,[101,125,148.6,172.5],1394.5,1356,227.5),
         (1356,1380,253,370), B_p_ticks, B_p_labels, (0.0001,0.0132), 21.6)
T(1217, 460.7, "NES", 27, "center")
directions(1216.4,1120.5,1243,1339,485,[(1177.6,505,"Depleted  in"),(1179.3,523.5,"Milademetan"),(1285,505,"Enriched in"),(1287,523.5,"Milademetan")])

lollipop(4, (1075.5, 1366.6, 591.6, 1019.5), [-2.36, 2.12], D_terms, D_nes, D_size, D_p, lambda s: 10+(s-140)*0.225,
         [-2,-1,0,1,2], [-1.5,-0.5,0.5,1.5], (1390.5,668.8,1402,[706.9,731,755],1428.8,1390.5,812),
         (1390.5,1413.3,839,956.6), D_p_ticks, D_p_labels, (0.00003,0.00214), 22.2)
T(1221, 1061, "NES", 27, "center")
directions(1216.4,1119.4,1242,1338.6,1097.2,[(1176.5,1118.3,"Depleted  in"),(1178.8,1136,"Trametinib"),(1283.8,1118.3,"Enriched in"),(1286,1136,"Trametinib")],1.2,"#222222")

lollipop(6, (1075.5, 1323.8, 1193, 1620), [-3.03, 2.35], F_terms, F_nes, F_size, F_p, lambda s: 10+(s-100)*0.12,
         [-3,-2,-1,0,1,2], [-2.5,-1.5,-0.5,0.5,1.5], (1347.7,1257.7,1358.6,[1295.8,1319.8,1343.9,1367.9],1386,1347.7,1424),
         (1347.7,1371,1451,1570.3), F_p_ticks, F_p_labels, (0.0002,0.0253), 22.2)
T(1199.3, 1662, "NES", 27, "center")
directions(1219.3,1123.4,1245,1340.9,1685.7,[(1180.5,1707,"Depleted  in"),(1182.2,1725,"Combo"),(1287.8,1707,"Enriched in"),(1289.5,1725,"Combo")])

# ---------- panel letters ----------
for x,y,s in [(0,28,"A."),(608.6,28,"B."),(0,605,"C."),(608.6,605,"D."),(0,1228,"E."),(608.6,1227,"F."),(375.6,1801.7,"G.")]:
    T(x,y,f"<b>{s}</b>",36)

fig.update_layout(width=W, height=H, autosize=False, margin=dict(l=0,r=0,t=0,b=0,pad=0,autoexpand=False), paper_bgcolor="white", plot_bgcolor="white",
                  font=dict(family=FONT, color="black"), showlegend=False, annotations=annots, shapes=shapes, **layout)
fig.write_html("out.html", config=dict(displayModeBar=False), post_script="document.body.style.margin='0';")
